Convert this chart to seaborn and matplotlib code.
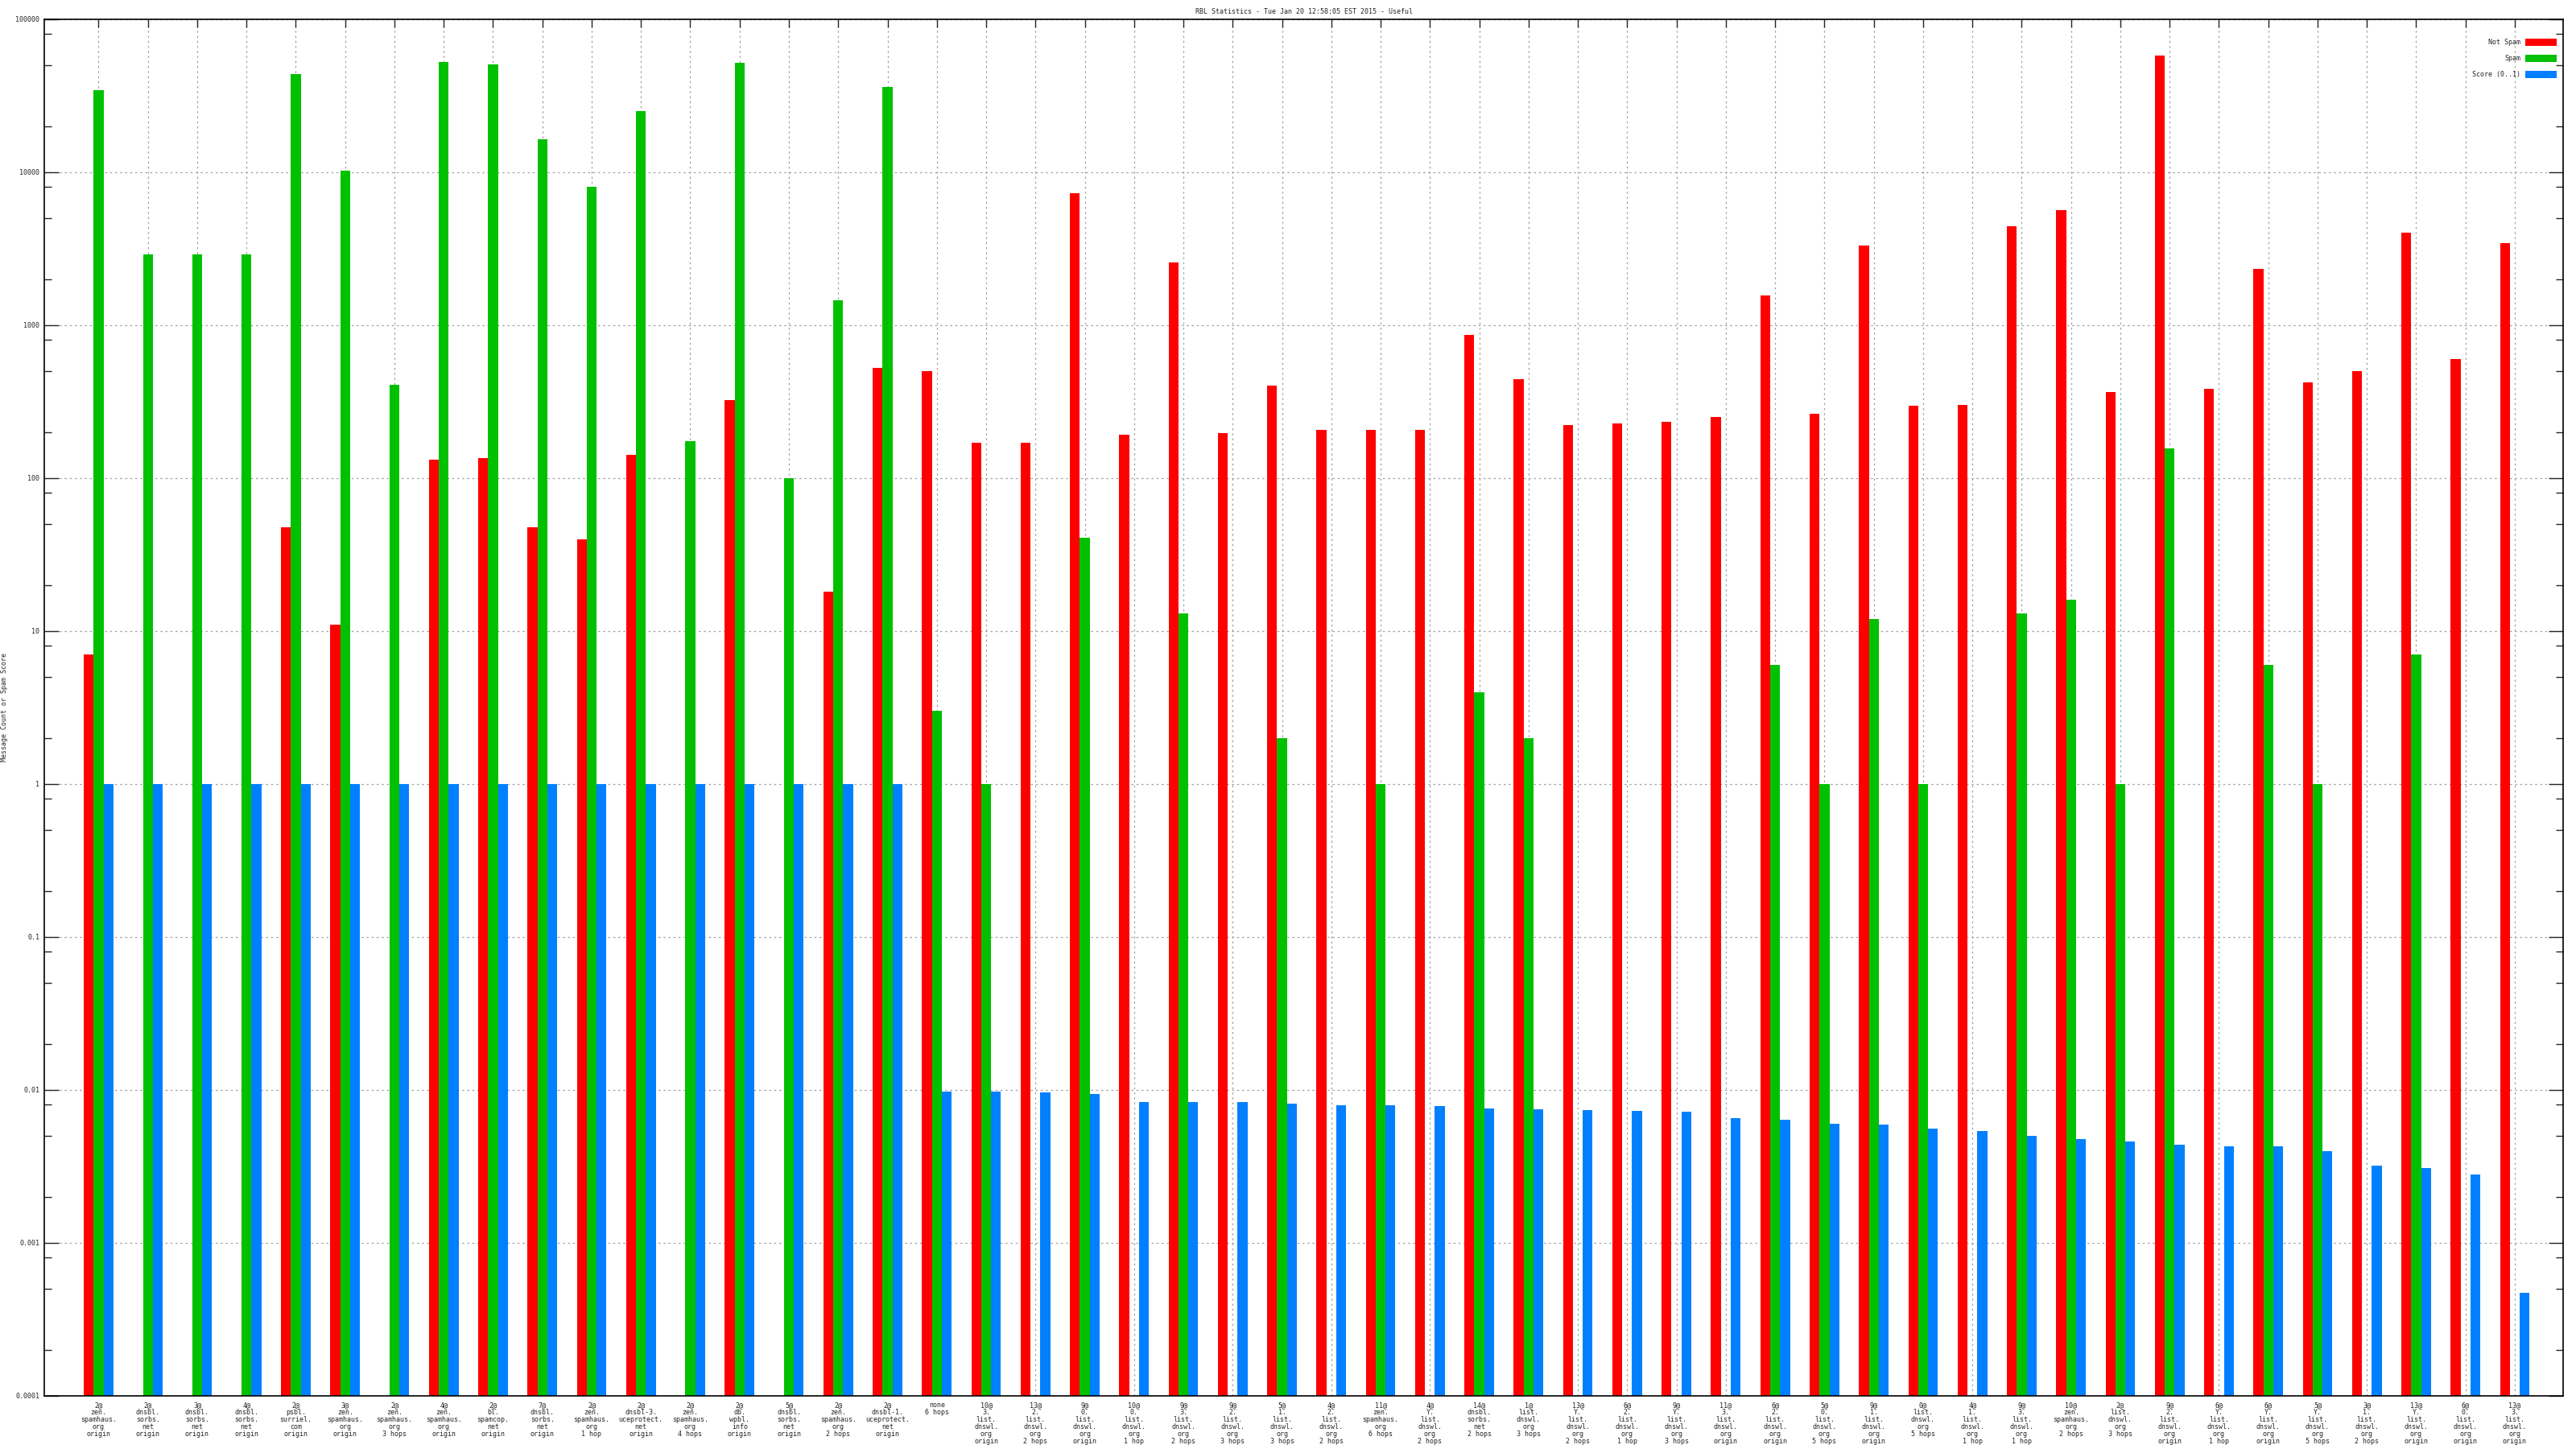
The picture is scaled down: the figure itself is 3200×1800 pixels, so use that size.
import numpy as np
import pandas as pd
import matplotlib
matplotlib.use('Agg')
import matplotlib.pyplot as plt
import matplotlib.ticker as mticker
import seaborn as sns

nan = np.nan

# rbl names as shown under each group
rbl_labels = [
    '2@\nzen.\nspamhaus.\norg\norigin', '2@\ndnsbl.\nsorbs.\nnet\norigin', '3@\ndnsbl.\nsorbs.\nnet\norigin',
    '4@\ndnsbl.\nsorbs.\nnet\norigin', '2@\npsbl.\nsurriel.\ncom\norigin', '3@\nzen.\nspamhaus.\norg\norigin',
    '2@\nzen.\nspamhaus.\norg\n3 hops', '4@\nzen.\nspamhaus.\norg\norigin', '2@\nbl.\nspamcop.\nnet\norigin',
    '7@\ndnsbl.\nsorbs.\nnet\norigin', '2@\nzen.\nspamhaus.\norg\n1 hop', '2@\ndnsbl-3.\nuceprotect.\nnet\norigin',
    '2@\nzen.\nspamhaus.\norg\n4 hops', '2@\ndb.\nwpbl.\ninfo\norigin', '5@\ndnsbl.\nsorbs.\nnet\norigin',
    '2@\nzen.\nspamhaus.\norg\n2 hops', '2@\ndnsbl-1.\nuceprotect.\nnet\norigin', 'none\n6 hops',
    '10@\n3.\nlist.\ndnswl.\norg\norigin', '13@\n2.\nlist.\ndnswl.\norg\n2 hops', '9@\n0.\nlist.\ndnswl.\norg\norigin',
    '10@\n0.\nlist.\ndnswl.\norg\n1 hop', '9@\n3.\nlist.\ndnswl.\norg\n2 hops', '9@\n2.\nlist.\ndnswl.\norg\n3 hops',
    '5@\n1.\nlist.\ndnswl.\norg\n3 hops', '4@\n2.\nlist.\ndnswl.\norg\n2 hops', '11@\nzen.\nspamhaus.\norg\n6 hops',
    '4@\nY.\nlist.\ndnswl.\norg\n2 hops', '14@\ndnsbl.\nsorbs.\nnet\n2 hops', '1@\nlist.\ndnswl.\norg\n3 hops',
    '13@\nY.\nlist.\ndnswl.\norg\n2 hops', '6@\n2.\nlist.\ndnswl.\norg\n1 hop', '9@\nY.\nlist.\ndnswl.\norg\n3 hops',
    '11@\n3.\nlist.\ndnswl.\norg\norigin', '6@\n2.\nlist.\ndnswl.\norg\norigin', '5@\n0.\nlist.\ndnswl.\norg\n5 hops',
    '9@\n1.\nlist.\ndnswl.\norg\norigin', '0@\nlist.\ndnswl.\norg\n5 hops', '4@\n1.\nlist.\ndnswl.\norg\n1 hop',
    '9@\n3.\nlist.\ndnswl.\norg\n1 hop', '10@\nzen.\nspamhaus.\norg\n2 hops', '2@\nlist.\ndnswl.\norg\n3 hops',
    '9@\n2.\nlist.\ndnswl.\norg\norigin', '6@\nY.\nlist.\ndnswl.\norg\n1 hop', '6@\nY.\nlist.\ndnswl.\norg\norigin',
    '5@\nY.\nlist.\ndnswl.\norg\n5 hops', '3@\n1.\nlist.\ndnswl.\norg\n2 hops', '13@\nY.\nlist.\ndnswl.\norg\norigin',
    '6@\n0.\nlist.\ndnswl.\norg\norigin', '13@\n3.\nlist.\ndnswl.\norg\norigin',
]

not_spam = [7, nan, nan, nan, 48, 11, nan, 132, 135, 48,
            40, 142, nan, 322, nan, 18, 528, 500, 170, 170,
            7260, 192, 2570, 196, 403, 206, 206, 206, 866, 445,
            222, 227, 232, 252, 1570, 264, 3300, 299, 300, 4430,
            5680, 365, 58000, 383, 2330, 423, 500, 4020, 598, 3460]

spam = [34500, 2900, 2900, 2900, 44000, 10300, 410, 52600, 51000, 16400,
        8000, 25000, 174, 52000, 100, 1450, 36000, 3, 1, nan,
        41, nan, 13, nan, 2, nan, 1, nan, 4, 2,
        nan, nan, nan, nan, 6, 1, 12, 1, nan, 13,
        16, 1, 157, nan, 6, 1, nan, 7, nan, nan]

score = [1, 1, 1, 1, 1, 1, 1, 1, 1, 1,
         1, 1, 1, 1, 1, 1, 1, 0.0097, 0.0097, 0.0096,
         0.0094, 0.0083, 0.0083, 0.0083, 0.0081, 0.0079, 0.0079, 0.0078, 0.0076, 0.0075,
         0.0074, 0.0073, 0.0072, 0.0065, 0.0064, 0.0060, 0.0059, 0.0056, 0.0054, 0.0050,
         0.0048, 0.0046, 0.0044, 0.0043, 0.0043, 0.0040, 0.0032, 0.0031, 0.0028, 0.00047]

series_names = ['Not Spam', 'Spam', 'Score (0..1)']
y_ticks = [0.0001, 0.001, 0.01, 0.1, 1, 10, 100, 1000, 10000, 100000]
y_tick_labels = ['0.0001', '0.001', '0.01', '0.1', '1', '10', '100', '1000', '10000', '100000']
title = 'RBL Statistics - Tue Jan 20 12:58:05 EST 2015 - Useful'

# long form table for seaborn
df = pd.DataFrame({
    'rbl': rbl_labels * 3,
    'series': [series_names[0]] * len(rbl_labels) + [series_names[1]] * len(rbl_labels) + [series_names[2]] * len(rbl_labels),
    'value': not_spam + spam + score,
})

sns.set_style('white')
plt.rcParams['font.family'] = ['DejaVu Sans Mono']
plt.rcParams['font.size'] = 6

colors = {'Not Spam': '#ff0000', 'Spam': '#00c000', 'Score (0..1)': '#0080ff'}

fig = plt.figure(figsize=(32, 18), dpi=100)
ax = fig.add_axes([0.0172, 0.0367, 0.9778, 0.95])
ax.set_yscale('log')
sns.barplot(data=df, x='rbl', y='value', hue='series', order=rbl_labels, hue_order=series_names,
            palette=colors, width=0.6, saturation=1, linewidth=0, ax=ax)

ax.set_ylim(1e-4, 1e5)
ax.set_xlim(-1.1, len(rbl_labels) - 0.02)
ax.yaxis.set_major_locator(mticker.FixedLocator(y_ticks))
ax.yaxis.set_major_formatter(mticker.FixedFormatter(y_tick_labels))
ax.yaxis.set_minor_locator(mticker.LogLocator(base=10, subs=(2, 5, 8), numticks=50))
ax.yaxis.set_minor_formatter(mticker.NullFormatter())

# gnuplot look: inward ticks on all sides, dotted grid
ax.tick_params(axis='y', which='major', direction='in', length=13, width=1, left=True, right=True, pad=4, labelsize=6)
ax.tick_params(axis='y', which='minor', direction='in', length=6.5, width=1, left=True, right=True)
ax.tick_params(axis='x', which='major', direction='in', length=7, width=1, top=True, bottom=False, pad=5, labelsize=6)
for lab in ax.get_xticklabels():
    lab.set_linespacing(1.0)
ax.grid(True, which='major', axis='both', linestyle=(0, (2, 3)), color='#a0a0a0', linewidth=0.9)
ax.set_axisbelow(True)
for s in ax.spines.values():
    s.set_visible(True)
    s.set_color('black')
    s.set_linewidth(1.2)

ax.set_xlabel('')
ax.set_ylabel('Message Count or Spam Score', fontsize=6)
ax.yaxis.set_label_coords(-0.0145, 0.5)
ax.set_title(title, fontsize=6, pad=5)

leg = ax.legend(loc='upper right', bbox_to_anchor=(0.9985, 0.988), frameon=False, markerfirst=False,
                handlelength=4.7, handleheight=1.3, labelspacing=1.3, handletextpad=0.7, borderaxespad=0, fontsize=6)

plt.savefig('out.png', dpi=100)
plt.close()
